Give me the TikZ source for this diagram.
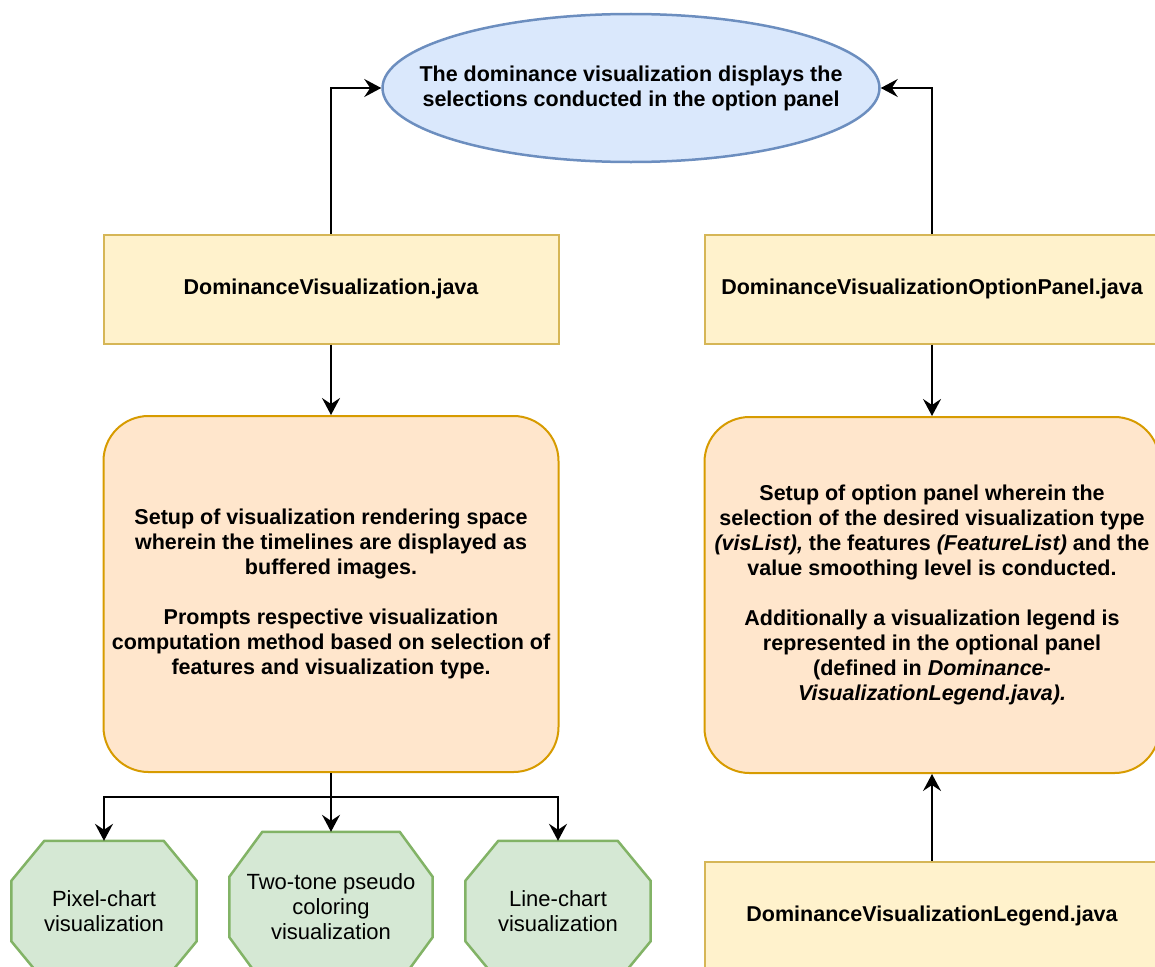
\documentclass[tikz,border=0pt]{standalone}
\usepackage{fontspec}
\setmainfont{Liberation Sans}
\usetikzlibrary{shapes.geometric,arrows.meta,positioning,calc,backgrounds}

\definecolor{goalfill}{HTML}{DAE8FC}
\definecolor{goalline}{HTML}{6C8EBF}
\definecolor{filefill}{HTML}{FFF2CC}
\definecolor{fileline}{HTML}{D6B656}
\definecolor{setupfill}{HTML}{FFE6CC}
\definecolor{setupline}{HTML}{D79B00}
\definecolor{chartfill}{HTML}{D5E8D4}
\definecolor{chartline}{HTML}{82B366}

\begin{document}
\begin{tikzpicture}[x=1pt,y=-1pt]

\tikzstyle{goal} = [ellipse, minimum width=497pt, minimum height=148pt, inner xsep=-40pt, inner ysep=0pt, align=center, draw=goalline, fill=goalfill, line width=2.5pt, font=\fontsize{21.5}{25}\selectfont\bfseries]
\tikzstyle{javafile} = [rectangle, minimum width=455pt, minimum height=109pt, align=center, draw=fileline, fill=filefill, line width=2pt, font=\fontsize{21.5}{25}\selectfont\bfseries]
\tikzstyle{setup} = [rectangle, rounded corners=45pt, minimum width=455pt, minimum height=356pt, align=center, draw=setupline, fill=setupfill, line width=2pt, font=\fontsize{21.5}{25}\selectfont\bfseries]
\tikzstyle{chart} = [rectangle, minimum width=185pt, minimum height=140pt, align=center, font=\fontsize{22}{25}\selectfont]
\tikzstyle{octagon} = [draw=chartline, fill=chartfill, line width=2.5pt, line join=round]
\tikzstyle{arrow} = [line width=2pt,->,>={Stealth[length=17pt,width=18pt,inset=6pt]}]

\useasboundingbox (0,0) rectangle (1155,966);
\clip (0,0) rectangle (1155,966);

\node (goal) [goal] at (631,88) {The dominance visualization displays the\\selections conducted in the option panel};
\node (dvjava) [javafile] at (331,289) {DominanceVisualization.java};
\node (panjava) [javafile] at (932,289) {DominanceVisualizationOptionPanel.java};
\node (dvsetup) [setup] at (331,594) {Setup of visualization rendering space\\wherein the timelines are displayed as\\buffered images.\\[25pt]Prompts respective visualization\\computation method based on selection of\\features and visualization type.};
\node (pansetup) [setup] at (932,595) {Setup of option panel wherein the\\selection of the desired visualization type\\\textit{(visList),} the features \textit{(FeatureList)} and the\\value smoothing level is conducted.\\[25pt]Additionally a visualization legend is\\represented in the optional panel\\(defined in \textit{Dominance-}\\\textit{VisualizationLegend.java).}};
\node (legjava) [javafile] at (932,916) {DominanceVisualizationLegend.java};

\node (pixel) [chart] at (104,911) {Pixel-chart\\visualization};
\node (twotone) [chart, minimum width=203pt, minimum height=150pt] at (331,907) {Two-tone pseudo\\coloring\\visualization};
\node (linechart) [chart] at (558,911) {Line-chart\\visualization};

% octagon outlines behind the chart nodes
\begin{pgfonlayer}{background}
\foreach \n/\dx/\dy in {pixel/33/40, twotone/33/45, linechart/33/40}
  \draw [octagon] ($(\n.north west)+(\dx,0)$) -- ($(\n.north east)+(-\dx,0)$) -- ($(\n.north east)+(0,\dy)$) -- ($(\n.south east)+(0,-\dy)$) -- ($(\n.south east)+(-\dx,0)$) -- ($(\n.south west)+(\dx,0)$) -- ($(\n.south west)+(0,-\dy)$) -- ($(\n.north west)+(0,\dy)$) -- cycle;
\end{pgfonlayer}

\coordinate (split) at (331,797);

\draw [arrow] (dvjava.north) |- (goal.west);
\draw [arrow] (panjava.north) |- (goal.east);
\draw [arrow] (dvjava) -- (dvsetup);
\draw [arrow] (panjava) -- (pansetup);
\draw [arrow] (legjava) -- (pansetup);
\draw [arrow] (dvsetup) -- (twotone);
\draw [arrow] (split) -| (pixel.north);
\draw [arrow] (split) -| (linechart.north);

\end{tikzpicture}
\end{document}
